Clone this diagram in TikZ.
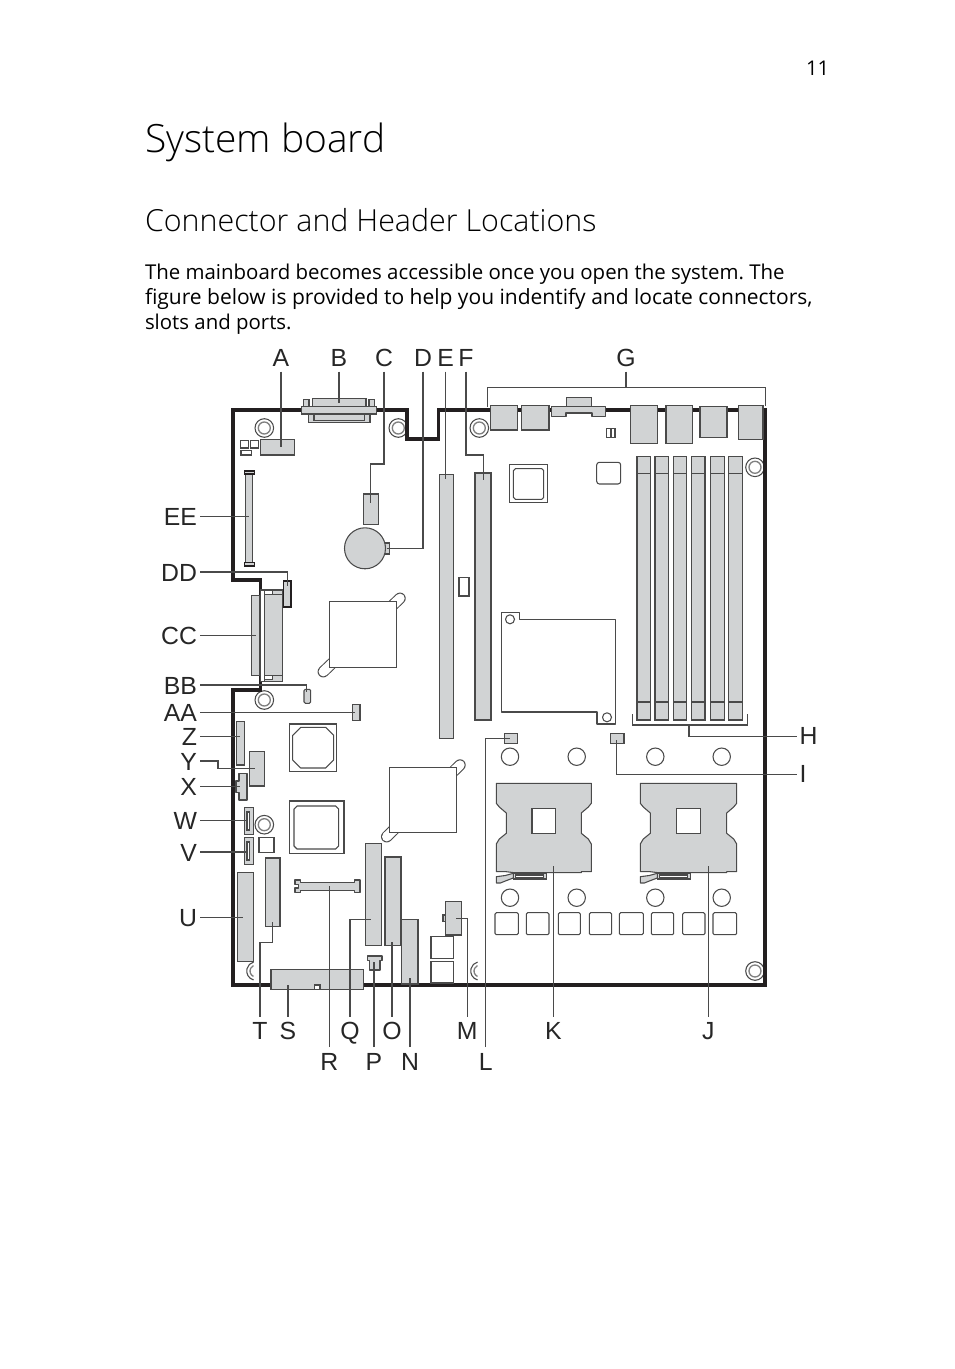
\documentclass[tikz,border=0pt]{standalone}
\usepackage{fontspec}
\setmainfont{Open Sans}
\newfontfamily\lightfont{Open Sans Light}
\newfontfamily\labfont{Liberation Sans}
\definecolor{pfill}{HTML}{D1D3D4}
\definecolor{pline}{HTML}{4A4A4A}
\definecolor{board}{HTML}{231F20}
\tikzset{
  part/.style={draw=pline,fill=pfill,line width=.8pt,inner sep=0,outer sep=0,rectangle},
  blank/.style={part,fill=white},
  darkpart/.style={part,draw=board,line width=1.2pt},
  shapeline/.style={draw=pline,line width=.8pt,line join=round},
  greyshape/.style={shapeline,fill=pfill},
  whiteshape/.style={shapeline,fill=white},
  leader/.style={draw=pline,line width=.8pt},
  outline/.style={draw=board,line width=2.7pt,line join=miter},
  lab/.style={font=\labfont\fontsize{18.6pt}{20pt}\selectfont,text=black!85,text height=13.6pt,text depth=0pt,inner xsep=2.25pt,inner ysep=3.75pt,outer sep=0},
  page/.style={anchor=base west,inner sep=0,outer sep=0,text=black},
}
\newcommand\pcb[6][part]{%
  \pgfmathsetmacro\pw{abs((#5)-(#3))*0.75}\pgfmathsetmacro\ph{abs((#6)-(#4))*0.75}%
  \node[#1,minimum width=\pw pt,minimum height=\ph pt] (#2) at ({((#3)+(#5))/2},{((#4)+(#6))/2}) {};}
\newcommand\hole[2]{%
  \draw[whiteshape] (#1,#2) circle (9.3);
  \draw[draw=pline!70,line width=1pt] (#1,#2) circle (6);}
\newcommand\parthole[2]{%
  \draw[shapeline] ([shift={(105:9.3)}]#1,#2) arc (105:255:9.3);
  \draw[draw=pline!70,line width=1pt] ([shift={(115:6)}]#1,#2) arc (115:245:6);}
\newcommand\ring[2]{\draw[whiteshape] (#1,#2) circle (8.7);}
\newcommand\chamf[5]{%
  \draw[shapeline] ({#1+#5},#2) -- ({#3-#5},#2) -- (#3,{#2+#5}) -- (#3,{#4-#5}) -- ({#3-#5},#4) -- ({#1+#5},#4) -- (#1,{#4-#5}) -- (#1,{#2+#5}) -- cycle;}
\newcommand\capsule[4]{%
  \draw[line width=8.6pt,line cap=round,draw=pline] (#1,#2) -- (#3,#4);
  \draw[line width=7.1pt,line cap=round,draw=white] (#1,#2) -- (#3,#4);}
\newcommand\socket[3]{%
  \draw[greyshape] (#2,783.3) -- (#3,783.3) -- (#3,803.3) -- ({#3-3},807) -- ({#3-10},813) -- ({#3-10},833.3) -- ({#3-3},839) -- (#3,844) -- (#3,871.7) -- ({#3-10},871.7) -- ({#3-10},872.7) -- ({#2+18},872.7) -- ({#2+10},871.7) -- (#2,871.7) -- (#2,844) -- ({#2+3},839) -- ({#2+10},833.3) -- ({#2+10},813) -- ({#2+3},807) -- (#2,803.3) -- cycle;
  \pcb[blank]{#1sq}{(#2+#3)/2-11.8}{808.3}{(#2+#3)/2+11.8}{833.3}
  \pcb{#1bar}{#2+17}{873.3}{#2+50.5}{879}
  \pcb[blank]{#1slot}{#2+19}{875}{#2+47}{878}
  \draw[greyshape] (#2,876.7) -- ({#2+9},875.5) -- ({#2+17},873.3) -- ({#2+17},878) -- ({#2+9},881) -- ({#2+4},883) -- (#2,883) -- cycle;}
\frenchspacing
\begin{document}
\begin{tikzpicture}[x=0.75pt,y=-0.75pt]
\useasboundingbox (0,0) rectangle (954,1369);
% page text
\node[page,font=\fontsize{15.2pt}{18pt}\selectfont] (pageno) at (806,76) {11};
\node[page,font=\lightfont\fontsize{29.2pt}{36pt}\selectfont] (title) at (145,153) {System board};
\node[page,font=\lightfont\fontsize{22.8pt}{28pt}\selectfont] (head) at (145,232) {Connector and Header Locations};
\node[page,font=\fontsize{15.32pt}{18pt}\selectfont] (l1) at (145,279.7) {The mainboard becomes accessible once you open the system. The};
\node[page,font=\fontsize{15.75pt}{18pt}\selectfont] (l2) at (145,304.7) {figure below is provided to help you indentify and locate connectors,};
\node[page,font=\fontsize{15.3pt}{18pt}\selectfont] (l3) at (145,329.7) {slots and ports.};
% holes under the outline
\hole{264.3}{428}\hole{398.3}{428}\hole{479.3}{428}\hole{755}{467.3}
\hole{264.3}{700}\hole{264.3}{824.7}\hole{755}{971}
\parthole{256}{971}\parthole{480}{971}
% board outline
\draw[outline] (233,410) -- (407,410) -- (407,439) -- (438.3,439) -- (438.3,410) -- (765,410) -- (765,985) -- (233,985) -- (233,690) -- (260.5,690) -- (260.5,580) -- (233,580) -- cycle;
% connector A area
\pcb{pA}{260.3}{439.3}{294.7}{455}
\pcb[blank]{sq1}{240.7}{440.7}{248.3}{448}
\pcb[blank]{sq2}{250.7}{440.7}{258.3}{448}
\pcb[blank]{sq3}{241}{450.7}{251.3}{455}
% connector B
\pcb{pBt}{312.3}{398.3}{366}{407.7}
\pcb{pBl}{303.3}{399.3}{309}{406.7}
\pcb{pBr}{369}{399.3}{374.7}{406.7}
\pcb{pBb}{308.7}{414}{370}{422.3}
\pcb{pBi}{314}{414}{364.7}{420.5}
\pcb{pB}{301.7}{406.7}{376.7}{414}
% EE
\pcb{pEE}{245.5}{472}{252.5}{564}
\pcb[darkpart]{pEEt}{244.5}{471}{254.5}{474}
\pcb[darkpart]{pEEb}{244.5}{562.5}{254.5}{565.7}
% C, D, E, F
\pcb{pC}{363.3}{494}{378.3}{524.3}
\pcb{pDn}{384}{543}{389.7}{554}
\draw[greyshape] (365,548.3) circle (20.5);
\pcb{pE}{439.3}{474.3}{453.3}{738.3}
\pcb{pF}{475}{473}{491}{720}
\pcb[blank]{small1}{459}{577.3}{469}{596}
% G group
\pcb{pG1}{490.3}{405.7}{517.3}{430}
\pcb{pG2}{521.3}{405.7}{549}{430}
\pcb{pG3}{566.7}{397.3}{591.3}{406.7}
\draw[greyshape] (551.3,406.7) -- (605.7,406.7) -- (605.7,416.7) -- (592,416.7) -- (592,413) -- (566,413) -- (566,416.7) -- (551.3,416.7) -- cycle;
\pcb{pG4}{630.7}{405.7}{657.7}{443.3}
\pcb{pG5}{666}{405.7}{692.7}{443.3}
\pcb{pG6}{700}{406.7}{727}{437.3}
\pcb{pG7}{738.7}{405.7}{763}{439.3}
\pcb[blank]{dbl1}{606.7}{428.7}{611}{437.3}
\pcb[blank]{dbl2}{611}{428.7}{615}{437.3}
% chips top
\pcb[blank]{chipA}{509.3}{464.7}{547.7}{502.7}
\chamf{513.3}{468.7}{543.7}{499.3}{2}
\draw[whiteshape,rounded corners=2pt] (596.7,484) rectangle (620.7,462.3);
% DIMMs
\foreach \n/\a/\b in {1/637/650.3,2/655/668.3,3/673.3/686.7,4/691.3/705,5/710.7/724.3,6/728.7/742.3}{
  \pcb{dimm\n}{\a}{456.3}{\b}{720}
  \draw[leader] (\a,473.3) -- (\b,473.3);
  \draw[leader] (\a,702) -- (\b,702);
}
% VRM plate
\draw[whiteshape] (501.3,612.7) -- (519.7,612.7) -- (519.7,619.7) -- (615.3,619.7) -- (615.3,724) -- (597,724) -- (597,712) -- (501.3,712) -- cycle;
\draw[whiteshape] (510,619.3) circle (4.5);
\draw[whiteshape] (607,717.3) circle (4.5);
% I, L headers
\pcb{pI}{610.3}{733.7}{624}{743.3}
\pcb{pL}{504.7}{733.7}{517.3}{743.7}
% rings
\foreach \x in {510,576.7,655.3,721.7}{\ring{\x}{756.7}\ring{\x}{897.7}}
% sockets
\socket{k}{496.3}{591.3}
\socket{j}{640.3}{736.7}
% VRM squares
\foreach \n/\a/\b in {1/495/518.3,2/526.3/549,3/558.3/580.3,4/589.3/611.7,5/619.3/643.3,6/651.3/673.7,7/682.7/705,8/713/736.7}{
  \draw[whiteshape,rounded corners=1pt] (\a,912.7) rectangle (\b,934.7);
}
% left column
\pcb[darkpart]{pDD}{283.3}{580.7}{290.7}{606.7}
\pcb{pCCl}{251.7}{595.7}{260}{675.7}
\pcb[blank]{pCCs}{260.7}{590}{264.3}{681.7}
\pcb{pCC}{264.3}{594.3}{282.3}{675.7}
\pcb{pCCt}{264.3}{590}{282.3}{594.3}
\pcb[blank]{pCCti}{264.3}{590.7}{272.3}{594.3}
\pcb{pCCb}{264.3}{675.7}{282.3}{681.7}
\pcb[blank]{pCCbi}{264.3}{675.7}{272.3}{679.7}
\draw[greyshape,rounded corners=1pt] (304,689.3) rectangle (310.7,703.3);
\pcb{pAA}{352.3}{704.7}{360}{720.3}
\capsule{323.3}{671.7}{400}{598.3}
\pcb[blank]{big1}{329.3}{601.7}{396.3}{667.3}
\capsule{386.7}{836.7}{460}{765}
\pcb[blank]{big2}{389.7}{767.3}{456.7}{832.7}
\pcb[blank]{chip1}{289.3}{724}{336.7}{771.3}
\chamf{292.7}{727.3}{333.7}{768}{8}
\pcb[blank]{chip2}{289.3}{801}{344}{853.7}
\chamf{294}{806}{338.7}{849}{3}
\pcb{pZ}{236.3}{721.7}{244.7}{765}
\pcb{pY}{249.3}{751.7}{264.3}{786}
\draw[greyshape] (239,773.3) -- (247,773.3) -- (247,800) -- (239,800) -- (239,792.7) -- (236,792.7) -- (236,781) -- (239,781) -- cycle;
\pcb{pW}{244.3}{807.3}{253.5}{834.3}
\pcb[blank]{pWi}{247}{812}{249.3}{830}
\pcb{pV}{244.3}{837.7}{253.5}{864.3}
\pcb[blank]{pVi}{247}{842}{249.3}{860}
\pcb[blank]{sqV}{259}{837.7}{274}{852.3}
\pcb{pT}{265.3}{858}{280}{926.3}
\pcb{pU}{237.3}{872.7}{253.3}{961.3}
% bottom row
\draw[greyshape] (295,880) -- (300.5,880) -- (300.5,882.7) -- (354.5,882.7) -- (354.5,880) -- (360,880) -- (360,892.3) -- (354.5,892.3) -- (354.5,890.3) -- (300.5,890.3) -- (300.5,892.3) -- (295,892.3) -- (295,888) -- (298.3,888) -- (298.3,884.5) -- (295,884.5) -- cycle;
\pcb{pQ}{365.7}{843.3}{381.7}{945.7}
\pcb{pO}{385}{857}{401}{945.7}
\pcb{pN}{401.7}{919.7}{418}{984}
\draw[greyshape] (367.3,956) -- (382,956) -- (382,960.7) -- (380,960.7) -- (380,970) -- (369.3,970) -- (369.3,960.7) -- (367.3,960.7) -- cycle;
\pcb{pS}{271}{969.7}{363.3}{989.3}
\pcb[blank]{pSn}{314.3}{985}{320}{989.3}
\pcb{pM}{445.7}{901.7}{461.7}{935}
\pcb{pMe}{443}{915}{445.7}{921.7}
\pcb[blank]{box1}{431}{936.7}{453.3}{958.3}
\pcb[blank]{box2}{431}{961.7}{453.3}{983}
% labels
\foreach \n/\t/\x in {A/A/281,B/B/339,C/C/384,D/D/423,E/E/445.7,F/F/466,G/G/626}{
  \node[lab,anchor=south] (l\n) at (\x,371.7) {\t};}
\foreach \n/\t/\y in {EE/EE/516.7,DD/DD/572,CC/CC/635.7,BB/BB/685,AA/AA/712.7,Z/Z/736.7,Y/Y/761,X/X/786.7,W/W/820.7,V/V/852,U/U/917.3}{
  \node[lab,anchor=east] (l\n) at (200,\y) {\t};}
\foreach \n/\t/\x in {T/T/260,S/S/288,Q/Q/350,O/O/392,M/M/467.3,K/K/553.3,J/J/708.3}{
  \node[lab,anchor=north] (l\n) at (\x,1016.7) {\t};}
\foreach \n/\t/\x in {R/R/329.3,P/P/374,N/N/410,L/L/485.7}{
  \node[lab,anchor=north] (l\n) at (\x,1047) {\t};}
\node[lab,anchor=west] (lH) at (796.5,735.7) {H};
\node[lab,anchor=west] (lI) at (796.5,773.3) {I};
% leader ends
\coordinate (eA) at (281,447);
\coordinate (eB) at (339,403);
\coordinate (eC) at (370.3,503);
\coordinate (eD) at (387.3,548.3);
\coordinate (eE) at (445.7,479.3);
\coordinate (eF) at (483.3,480);
\coordinate (eH) at (689,725);
\coordinate (eI) at (616.7,740);
\coordinate (eJ) at (708.3,866);
\coordinate (eK) at (553.3,866);
\coordinate (eL) at (510,738.3);
\coordinate (eM) at (456,918.3);
\coordinate (eN) at (410,978);
\coordinate (eO) at (392,941.7);
\coordinate (eP) at (374,962);
\coordinate (eQ) at (371,919.3);
\coordinate (eR) at (329.3,886);
\coordinate (eS) at (288,985);
\coordinate (eT) at (272.7,921.7);
\coordinate (eU) at (242.7,917.3);
\coordinate (eV) at (247.7,852);
\coordinate (eW) at (247.7,820.7);
\coordinate (eX) at (240,786.7);
\coordinate (eY) at (255,768.7);
\coordinate (eZ) at (240,736.7);
\coordinate (eAA) at (355,712.7);
\coordinate (eBB) at (306.7,692);
\coordinate (eCC) at (256,635.7);
\coordinate (eDD) at (287.3,585.7);
\coordinate (eEE) at (249,516.7);
\coordinate (gL) at (487.7,406.7);
\coordinate (gR) at (765.3,406);
\coordinate (gM) at (626,387.3);
\coordinate (hL) at (632.3,714);
\coordinate (hR) at (747.3,714);
% leaders
\draw[leader] (lA.south) -- (eA);
\draw[leader] (lB.south) -- (eB);
\draw[leader] (lC.south) -- (384,464) -- (370.3,464) -- (eC);
\draw[leader] (lD.south) -- (423,548.3) -- (eD);
\draw[leader] (lE.south) -- (eE);
\draw[leader] (lF.south) -- (466,455) -- (483.3,455) -- (eF);
\draw[leader] (lG.south) -- (gM);
\draw[leader] (gL) -- (487.7,387.3) -- (765.3,387.3) -- (gR);
\draw[leader] (hL) -- (632.3,725) -- (747.3,725) -- (hR);
\draw[leader] (lH.west |- 689,736.7) -- (689,736.7) -- (eH);
\draw[leader] (lI.west |- 616.7,774.3) -- (616.7,774.3) -- (eI);
\draw[leader] (lJ.north) -- (eJ);
\draw[leader] (lK.north) -- (eK);
\draw[leader] (lL.north) -- (485.7,738.3) -- (eL);
\draw[leader] (lM.north) -- (467.3,918.3) -- (eM);
\draw[leader] (lN.north) -- (eN);
\draw[leader] (lO.north) -- (eO);
\draw[leader] (lP.north) -- (eP);
\draw[leader] (lQ.north) -- (350,919.3) -- (eQ);
\draw[leader] (lR.north) -- (eR);
\draw[leader] (lS.north) -- (eS);
\draw[leader] (lT.north) -- (260,942.7) -- (272.7,942.7) -- (eT);
\draw[leader] (lU.east) -- (eU);
\draw[leader] (lV.east) -- (eV);
\draw[leader] (lW.east) -- (eW);
\draw[leader] (lX.east) -- (eX);
\draw[leader] (lY.east) -- (218,761) -- (218,768.7) -- (eY);
\draw[leader] (lZ.east) -- (eZ);
\draw[leader] (lAA.east) -- (eAA);
\draw[leader] (lBB.east) -- (306.7,685) -- (eBB);
\draw[leader] (lCC.east) -- (eCC);
\draw[leader] (lDD.east) -- (287.3,572) -- (eDD);
\draw[leader] (lEE.east) -- (eEE);
\end{tikzpicture}
\end{document}
